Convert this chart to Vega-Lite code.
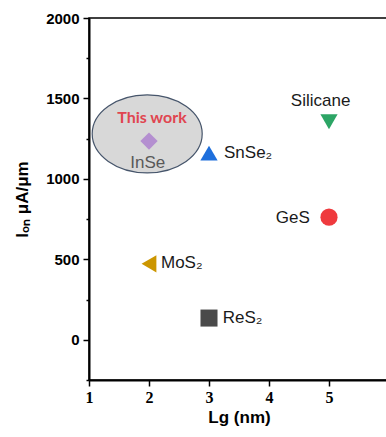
{
  "$schema": "https://vega.github.io/schema/vega-lite/v6.json",
  "width": 300,
  "height": 362,
  "autosize": "none",
  "padding": {"left": 89, "top": 18, "right": 0, "bottom": 57},
  "background": "white",
  "config": {
    "view": {"stroke": "black", "strokeWidth": 1.5},
    "font": "Liberation Sans"
  },
  "datasets": {
    "highlight": [{"item": "highlight", "lg": 1.97, "ion": 1280}],
    "points": [
      {"material": "InSe", "lg": 2, "ion": 1235},
      {"material": "SnSe2", "lg": 3, "ion": 1160},
      {"material": "Silicane", "lg": 5, "ion": 1355},
      {"material": "GeS", "lg": 5, "ion": 762},
      {"material": "MoS2", "lg": 2, "ion": 472},
      {"material": "ReS2", "lg": 3, "ion": 135}
    ],
    "labels_left": [
      {"label": "SnSe₂", "lg": 3.25, "ion": 1160},
      {"label": "MoS₂", "lg": 2.2, "ion": 475},
      {"label": "ReS₂", "lg": 3.23, "ion": 137}
    ],
    "labels_right": [{"label": "GeS", "lg": 4.68, "ion": 758}],
    "labels_center": [{"label": "Silicane", "lg": 4.86, "ion": 1486}],
    "label_inse": [{"label": "InSe", "lg": 1.98, "ion": 1100}],
    "label_work": [{"label": "This work", "lg": 2.05, "ion": 1379}]
  },
  "encoding": {
    "x": {
      "field": "lg", "type": "quantitative",
      "scale": {"domain": [1, 6], "nice": false, "zero": false},
      "axis": {
        "title": "Lg (nm)",
        "titleFont": "Liberation Sans", "titleFontSize": 17, "titleFontWeight": "bold", "titleColor": "black",
        "titlePadding": 4,
        "values": [1, 1.5, 2, 2.5, 3, 3.5, 4, 4.5, 5, 5.5, 6],
        "format": "d",
        "labelExpr": "(datum.value % 1 === 0 && datum.value < 6) ? datum.label : ''",
        "labelFont": "Liberation Serif", "labelFontSize": 16, "labelFontWeight": "bold", "labelColor": "black",
        "labelPadding": 3,
        "tickSize": {"condition": {"test": "datum.value % 1 === 0", "value": 6}, "value": 3},
        "tickColor": "black", "tickWidth": 1.5,
        "domainColor": "black", "domainWidth": 2,
        "grid": false, "labelFlush": false
      }
    },
    "y": {
      "field": "ion", "type": "quantitative",
      "scale": {"domain": [-250, 2000], "nice": false, "zero": false},
      "axis": {
        "title": "Iₒₙ μA/μm",
        "titleFont": "Liberation Sans", "titleFontSize": 17, "titleFontWeight": "bold", "titleColor": "black",
        "titlePadding": 14,
        "values": [-250, 0, 250, 500, 750, 1000, 1250, 1500, 1750, 2000],
        "labelExpr": "datum.value % 500 === 0 ? datum.label : ''",
        "format": "d",
        "labelFont": "Liberation Sans", "labelFontSize": 15, "labelFontWeight": "bold", "labelColor": "black",
        "labelPadding": 4,
        "tickSize": {"condition": {"test": "datum.value % 500 === 0", "value": 6}, "value": 3},
        "tickColor": "black", "tickWidth": 1.5,
        "domainColor": "black", "domainWidth": 2,
        "grid": false, "labelFlush": false
      }
    }
  },
  "layer": [
    {
      "data": {"name": "highlight"},
      "mark": {
        "type": "point",
        "shape": "M-1,0A1,0.71,0,1,1,1,0A1,0.71,0,1,1,-1,0Z",
        "size": 12100,
        "filled": true,
        "fill": "#d8d8d8",
        "stroke": "#46556b",
        "strokeWidth": 1.2,
        "opacity": 1,
        "fillOpacity": 1,
        "strokeOpacity": 1
      }
    },
    {
      "data": {"name": "points"},
      "mark": {"type": "point", "filled": true, "opacity": 1, "size": 260},
      "encoding": {
        "color": {
          "field": "material", "type": "nominal", "legend": null,
          "scale": {
            "domain": ["InSe", "SnSe2", "Silicane", "GeS", "MoS2", "ReS2"],
            "range": ["#b48fd0", "#1e6fdc", "#2ca565", "#ef3a3e", "#cc9600", "#4a4a4a"]
          }
        },
        "shape": {
          "field": "material", "type": "nominal", "legend": null,
          "scale": {
            "domain": ["InSe", "SnSe2", "Silicane", "GeS", "MoS2", "ReS2"],
            "range": ["diamond", "triangle-up", "triangle-down", "circle", "triangle-left", "square"]
          }
        },
        "size": {
          "field": "material", "type": "nominal", "legend": null,
          "scale": {
            "domain": ["InSe", "SnSe2", "Silicane", "GeS", "MoS2", "ReS2"],
            "range": [300, 290, 290, 170, 290, 180]
          }
        }
      }
    },
    {
      "data": {"name": "labels_left"},
      "mark": {"type": "text", "align": "left", "baseline": "middle", "fontSize": 17, "color": "#1a1a1a", "font": "Liberation Sans"},
      "encoding": {"text": {"field": "label"}}
    },
    {
      "data": {"name": "labels_right"},
      "mark": {"type": "text", "align": "right", "baseline": "middle", "fontSize": 17, "color": "#1a1a1a", "font": "Liberation Sans"},
      "encoding": {"text": {"field": "label"}}
    },
    {
      "data": {"name": "labels_center"},
      "mark": {"type": "text", "align": "center", "baseline": "middle", "fontSize": 17, "color": "#1a1a1a", "font": "Liberation Sans"},
      "encoding": {"text": {"field": "label"}}
    },
    {
      "data": {"name": "label_inse"},
      "mark": {"type": "text", "align": "center", "baseline": "middle", "fontSize": 17, "color": "#595959", "font": "Liberation Sans"},
      "encoding": {"text": {"field": "label"}}
    },
    {
      "data": {"name": "label_work"},
      "mark": {"type": "text", "align": "center", "baseline": "middle", "fontSize": 16, "fontWeight": "bold", "color": "#e04550", "font": "Lato"},
      "encoding": {"text": {"field": "label"}}
    }
  ]
}
